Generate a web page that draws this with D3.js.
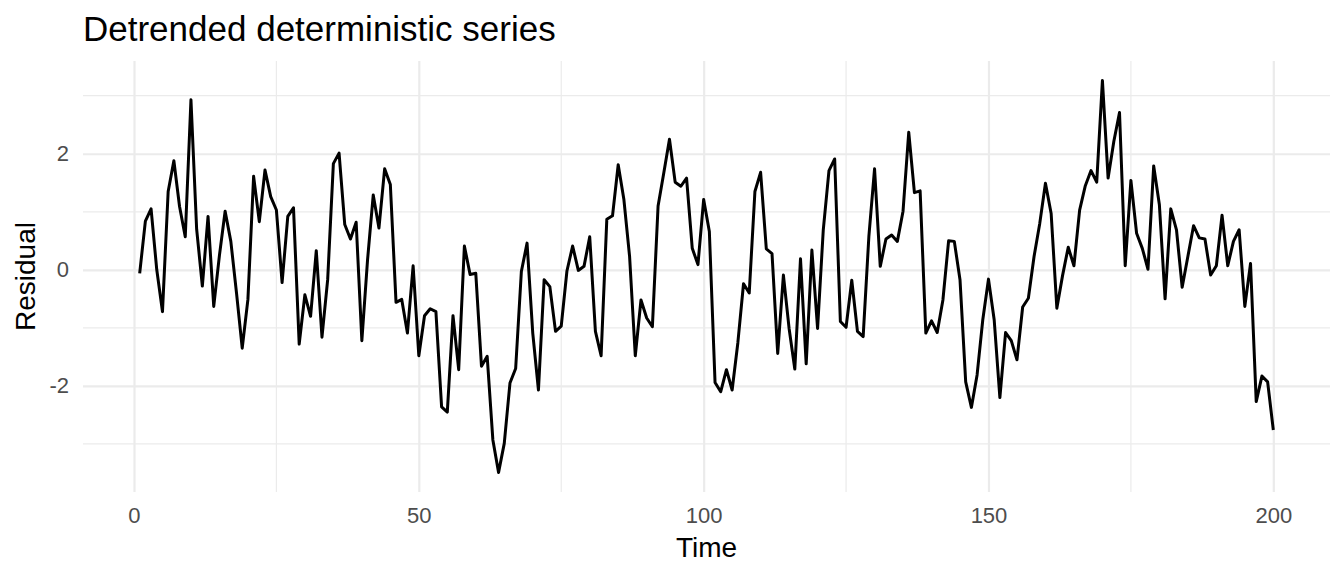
<!DOCTYPE html>
<html lang="en">

<head>
    <meta charset="UTF-8">
    <title>Detrended deterministic series</title>
    <script src="https://d3js.org/d3.v7.min.js"></script>
    <style>
        body {
            margin: 0;
            background: white;
        }

        text {
            font-family: "Liberation Sans", Arial, sans-serif;
        }
    </style>
</head>

<body>
    <div id="chart"></div>
    <script>
        const width = 1344;
        const height = 576;

        // Data
        const time = d3.range(1, 201);
        const residual = [
            -0.06, 0.84, 1.05, 0.00, -0.72, 1.35, 1.88, 1.09, 0.57, 2.93,
            0.70, -0.28, 0.92, -0.63, 0.25, 1.01, 0.49, -0.40, -1.35, -0.51,
            1.61, 0.83, 1.72, 1.26, 1.03, -0.22, 0.92, 1.07, -1.28, -0.43,
            -0.80, 0.33, -1.16, -0.17, 1.83, 2.01, 0.78, 0.53, 0.82, -1.22,
            0.17, 1.29, 0.72, 1.74, 1.47, -0.56, -0.51, -1.09, 0.07, -1.48,
            -0.79, -0.67, -0.72, -2.36, -2.45, -0.79, -1.72, 0.41, -0.08, -0.06,
            -1.66, -1.49, -2.93, -3.49, -2.99, -1.95, -1.70, -0.03, 0.46, -1.09,
            -2.07, -0.17, -0.29, -1.06, -0.97, -0.02, 0.41, -0.01, 0.06, 0.57,
            -1.06, -1.48, 0.87, 0.93, 1.81, 1.21, 0.23, -1.48, -0.52, -0.83,
            -0.98, 1.10, 1.67, 2.25, 1.51, 1.44, 1.58, 0.37, 0.09, 1.21,
            0.66, -1.94, -2.10, -1.72, -2.07, -1.26, -0.24, -0.40, 1.35, 1.68,
            0.36, 0.28, -1.44, -0.09, -1.01, -1.71, 0.19, -1.62, 0.34, -1.01,
            0.69, 1.71, 1.91, -0.89, -0.99, -0.18, -1.06, -1.15, 0.57, 1.74,
            0.06, 0.53, 0.60, 0.49, 1.01, 2.37, 1.33, 1.36, -1.09, -0.88,
            -1.08, -0.52, 0.50, 0.49, -0.17, -1.93, -2.37, -1.81, -0.86, -0.16,
            -0.86, -2.20, -1.08, -1.22, -1.55, -0.64, -0.49, 0.23, 0.80, 1.49,
            0.97, -0.66, -0.10, 0.39, 0.07, 1.03, 1.45, 1.71, 1.51, 3.26,
            1.58, 2.21, 2.71, 0.07, 1.54, 0.63, 0.37, 0.01, 1.79, 1.12,
            -0.50, 1.05, 0.69, -0.30, 0.23, 0.76, 0.55, 0.53, -0.09, 0.07,
            0.94, 0.07, 0.49, 0.69, -0.63, 0.11, -2.27, -1.83, -1.93, -2.76
        ];
        const xMajor = [0, 50, 100, 150, 200];
        const xMinor = [25, 75, 125, 175];
        const yMajor = [-2, 0, 2];
        const yMinor = [-3, -1, 1, 3];

        const data = time.map((t, i) => ({ t: t, v: residual[i] }));

        // panel box (ggplot theme_minimal look)
        const panel = { left: 83, right: 1330, top: 61, bottom: 492 };

        // ggplot-style 5% expansion of the data range
        function expand(ext) {
            const pad = (ext[1] - ext[0]) * 0.05;
            return [ext[0] - pad, ext[1] + pad];
        }

        const x = d3.scaleLinear()
            .domain(expand(d3.extent(time)))
            .range([panel.left, panel.right]);

        const y = d3.scaleLinear()
            .domain(expand(d3.extent(residual)))
            .range([panel.bottom, panel.top]);

        const svg = d3.select("#chart")
            .append("svg")
            .attr("width", width)
            .attr("height", height);

        const grid = svg.append("g");

        // minor gridlines
        grid.selectAll(".xminor")
            .data(xMinor)
            .join("line")
            .attr("x1", d => x(d)).attr("x2", d => x(d))
            .attr("y1", panel.top).attr("y2", panel.bottom)
            .attr("stroke", "#EBEBEB")
            .attr("stroke-width", 1.2);

        grid.selectAll(".yminor")
            .data(yMinor)
            .join("line")
            .attr("x1", panel.left).attr("x2", panel.right)
            .attr("y1", d => y(d)).attr("y2", d => y(d))
            .attr("stroke", "#EBEBEB")
            .attr("stroke-width", 1.2);

        // major gridlines + tick labels through d3 axes
        const xAxis = svg.append("g")
            .attr("transform", `translate(0,${panel.bottom})`)
            .call(d3.axisBottom(x).tickValues(xMajor).tickSize(-(panel.bottom - panel.top)).tickPadding(15));

        const yAxis = svg.append("g")
            .attr("transform", `translate(${panel.left},0)`)
            .call(d3.axisLeft(y).tickValues(yMajor).tickSize(-(panel.right - panel.left)).tickPadding(14));

        [xAxis, yAxis].forEach(ax => {
            ax.select(".domain").remove();
            ax.selectAll(".tick line")
                .attr("stroke", "#EBEBEB")
                .attr("stroke-width", 2.2);
            ax.selectAll(".tick text")
                .attr("fill", "#4D4D4D")
                .style("font-size", "22px")
                .style("font-family", "'Liberation Sans', Arial, sans-serif");
        });

        // plain hyphen minus like ggplot
        yAxis.selectAll(".tick text").text(d => String(d));

        // the series
        const line = d3.line()
            .x(d => x(d.t))
            .y(d => y(d.v));

        svg.append("path")
            .datum(data)
            .attr("d", line)
            .attr("fill", "none")
            .attr("stroke", "black")
            .attr("stroke-width", 3)
            .attr("stroke-linejoin", "round");

        // titles
        svg.append("text")
            .attr("x", panel.left)
            .attr("y", 41)
            .style("font-size", "35px")
            .attr("fill", "black")
            .text("Detrended deterministic series");

        svg.append("text")
            .attr("x", (panel.left + panel.right) / 2)
            .attr("y", 557)
            .attr("text-anchor", "middle")
            .style("font-size", "28px")
            .attr("fill", "black")
            .text("Time");

        svg.append("text")
            .attr("transform", `translate(35,${(panel.top + panel.bottom) / 2}) rotate(-90)`)
            .attr("text-anchor", "middle")
            .style("font-size", "28px")
            .attr("fill", "black")
            .text("Residual");
    </script>
</body>

</html>
